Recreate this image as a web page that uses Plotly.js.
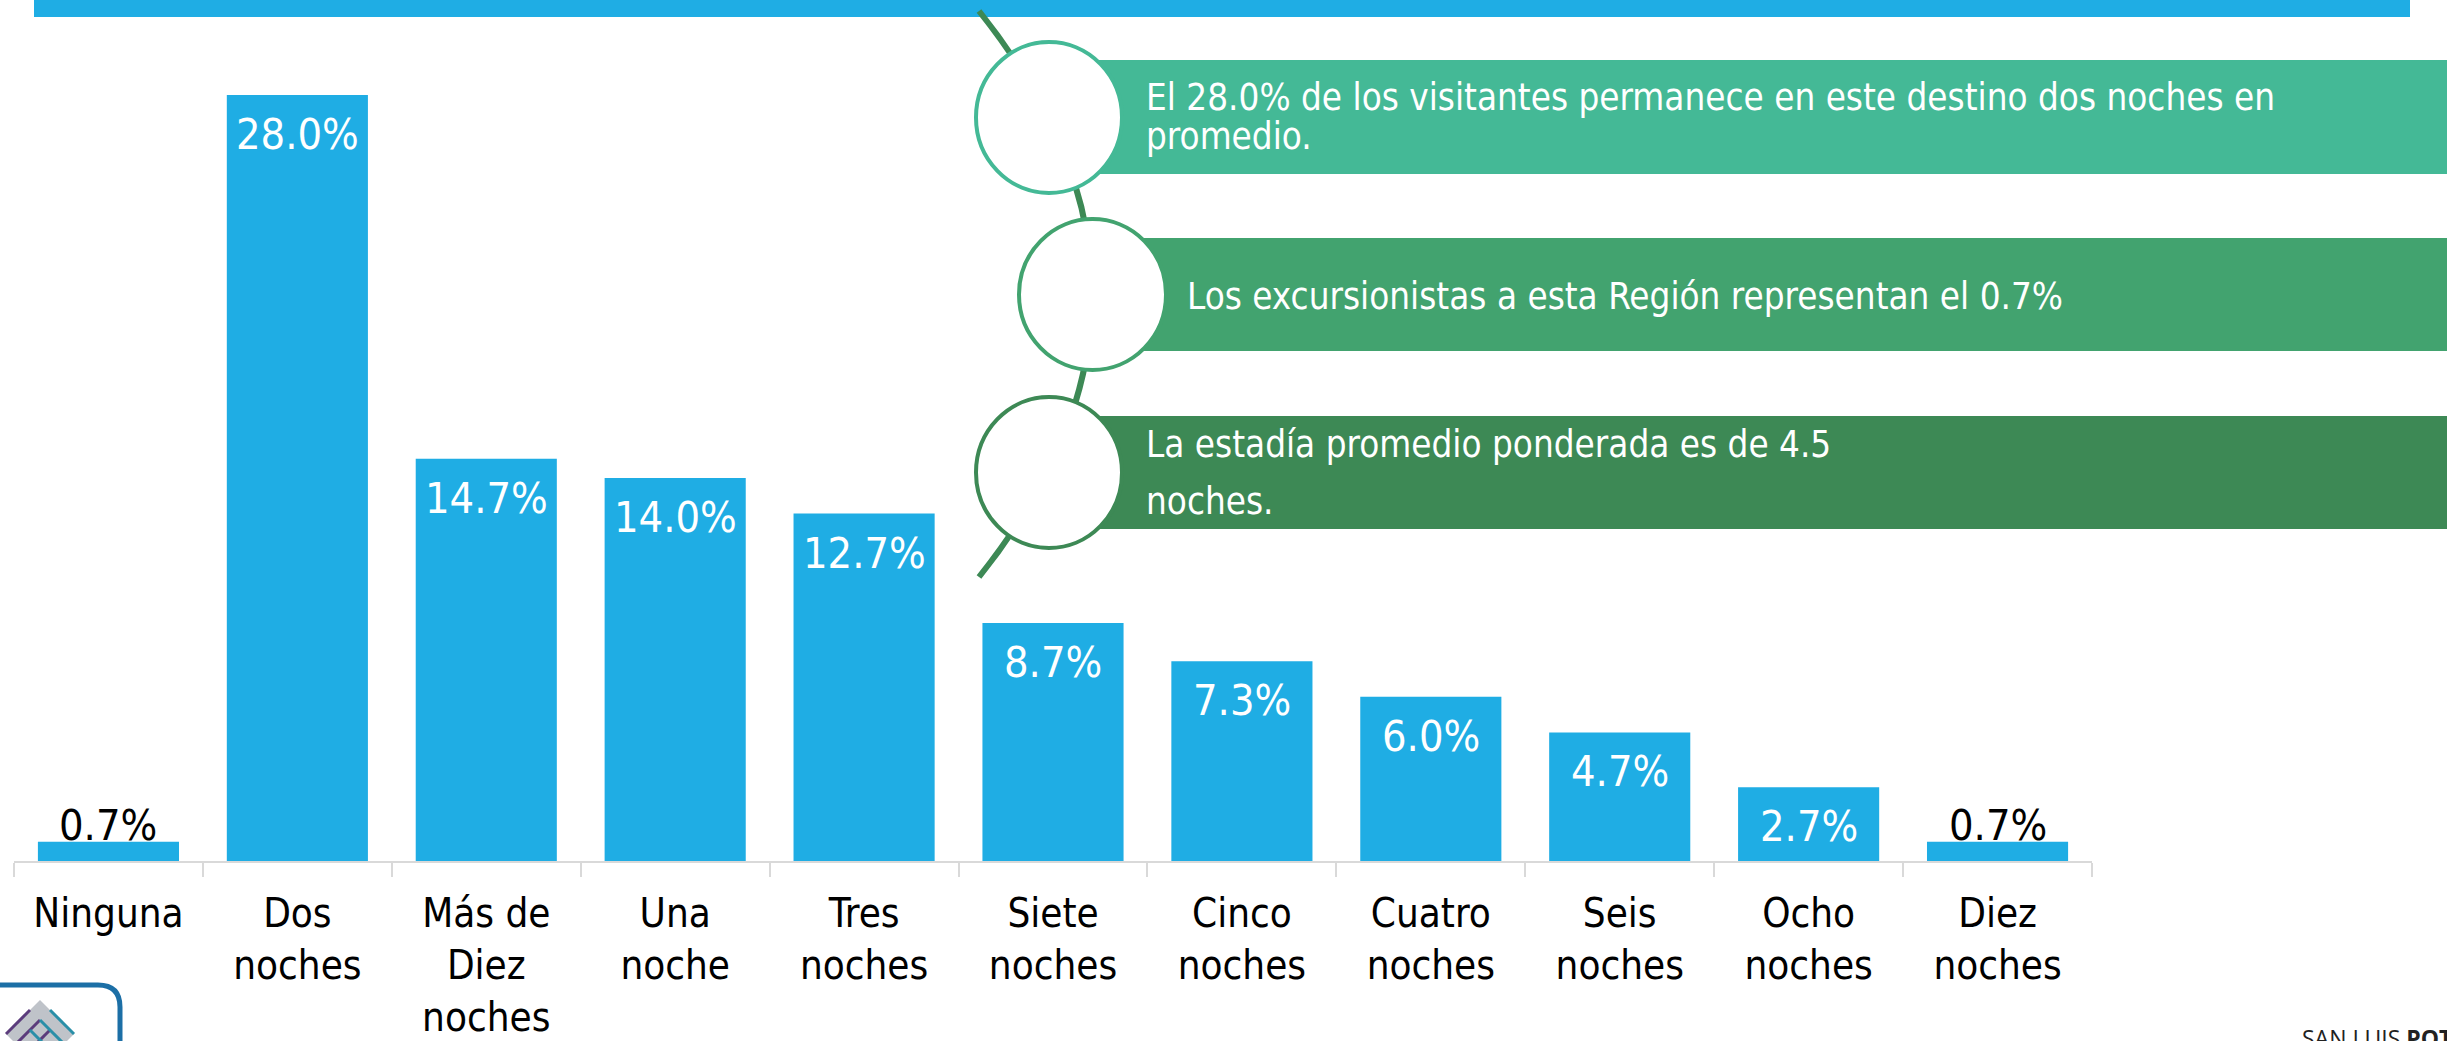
<!DOCTYPE html>
<html>
<head>
<meta charset="utf-8">
<script src="https://cdn.plot.ly/plotly-3.0.1.min.js"></script>
<style>html,body{margin:0;padding:0;background:#fff;}#chart{width:2447px;height:1041px;}</style>
</head>
<body>
<div id="chart"></div>
<script>
// ---- data ----
const categories = ['Ninguna','Dos<br>noches','Más de<br>Diez<br>noches','Una<br>noche','Tres<br>noches','Siete<br>noches','Cinco<br>noches','Cuatro<br>noches','Seis<br>noches','Ocho<br>noches','Diez<br>noches'];
const values = [0.7, 28.0, 14.7, 14.0, 12.7, 8.7, 7.3, 6.0, 4.7, 2.7, 0.7];
const note1 = ['El 28.0% de los visitantes permanece en este destino dos noches en', 'promedio.'];
const note2 = ['Los excursionistas a esta Región representan el 0.7%'];
const note3 = ['La estadía promedio ponderada es de 4.5', 'noches.'];
const brand = ['SAN LUIS ', 'POTOSÍ'];

// ---- geometry helpers (pixel -> paper) ----
const W = 2447, H = 1041;
const L = 14, R = 2092, T = 95, B = 861;
const px = x => (x - L) / (R - L);
const py = y => (B - y) / (B - T);

const FONT = '"DejaVu Sans Condensed", "DejaVu Sans", Tahoma, sans-serif';
const BLUE = '#1FADE4';
const G1 = '#44B996', G2 = '#42A36F', G3 = '#3D8955';

const shapes = [];
function rect(x0, y0, x1, y1, color) {
  shapes.push({type:'rect', xref:'paper', yref:'paper', x0:px(x0), x1:px(x1), y0:py(y1), y1:py(y0),
    fillcolor:color, line:{width:0}, layer:'above'});
}
function ell(x0, y0, x1, y1, color) {
  shapes.push({type:'circle', xref:'paper', yref:'paper', x0:px(x0), x1:px(x1), y0:py(y1), y1:py(y0),
    fillcolor:'#ffffff', line:{color:color, width:4}, layer:'above'});
}
function path(pts, color, width, fill) {
  let d = '';
  pts.forEach(p => {
    d += p[0];
    for (let i = 1; i < p.length; i += 2) d += ' ' + px(p[i]).toFixed(5) + ',' + py(p[i+1]).toFixed(5) + ' ';
  });
  shapes.push({type:'path', xref:'paper', yref:'paper', path:d,
    line:{color:color, width:width}, fillcolor: fill || 'rgba(0,0,0,0)', layer:'above'});
}

// top blue banner
rect(34, 0, 2410, 17, BLUE);
// connecting arc
path([['M', 979, 11], ['Q', 1205, 294, 979, 577]], G3, 6);
// bands
rect(1093, 60, 2447, 174, G1);
rect(1136, 238, 2447, 351, G2);
rect(1093, 416, 2447, 529, G3);
// circles
ell(976, 42, 1122, 193, G1);
ell(1019, 219, 1166, 370, G2);
ell(976, 397, 1122, 548, G3);

// logo bottom-left
path([['M', -10, 985], ['L', 98, 985], ['Q', 120, 985, 120, 1007], ['L', 120, 1060]], '#1C6FA6', 5);
path([['M', 40, 1000], ['L', 74, 1034], ['L', 40, 1068], ['L', 6, 1034], ['Z']], '#BFC3C9', 0, '#BFC3C9');
[[30,1010],[40,1020],[50,1030]].forEach(p => path([['M', p[0], p[1]], ['L', p[0]-24, p[1]+24]], '#5B3C7C', 3));
[[50,1010],[40,1020],[30,1030]].forEach(p => path([['M', p[0], p[1]], ['L', p[0]+24, p[1]+24]], '#2A8FA8', 3));

// annotations
const annotations = [];
function note(text, x, yc, size) {
  annotations.push({xref:'paper', yref:'paper', x:px(x), y:py(yc), xanchor:'left', yanchor:'middle',
    text:text, showarrow:false, font:{family:FONT, size:size, color:'#ffffff'}});
}
note(note1[0], 1144, 97, 36.5);
note(note1[1], 1144, 136, 36.5);
note(note2[0], 1185, 296, 36.5);
note(note3[0], 1144, 444, 36.5);
note(note3[1], 1144, 502, 36.5);
annotations.push({xref:'paper', yref:'paper', x:px(2300), y:py(1020), xanchor:'left', yanchor:'top',
  text: brand[0] + '<b>' + brand[1] + '</b>', showarrow:false,
  font:{family:'"Open Sans", "Noto Sans", sans-serif', size:23, color:'#222222'}});

// bar value labels, placed through the data axes
values.forEach((v, i) => {
  const outside = v < 2;
  annotations.push({xref:'x', yref:'y', x:categories[i], y:v, xanchor:'center', yanchor:'middle',
    yshift: outside ? 17 : -39, showarrow:false, text: v.toFixed(1) + '%',
    font:{family:FONT, size:43, color: outside ? '#000000' : '#ffffff'}});
});

const trace = {
  type:'bar', x:categories, y:values,
  marker:{color:BLUE},
  hoverinfo:'skip'
};

const layout = {
  width:W, height:H,
  margin:{l:L, r:W-R, t:T, b:H-B, pad:0},
  paper_bgcolor:'#ffffff', plot_bgcolor:'#ffffff',
  showlegend:false,
  bargap:0.253,
  xaxis:{type:'category', showline:true, linecolor:'#D9D9D9', linewidth:2,
    ticks:'outside', tickson:'boundaries', ticklen:14, tickcolor:'#D9D9D9', tickwidth:2,
    ticklabelstandoff:16,
    showgrid:false, zeroline:false, fixedrange:true,
    tickfont:{family:FONT, size:40, color:'#000000'}},
  yaxis:{range:[0, 28], visible:false, showgrid:false, zeroline:false, fixedrange:true},
  shapes:shapes,
  annotations:annotations
};

Plotly.newPlot('chart', [trace], layout, {displayModeBar:false, staticPlot:true});
</script>
</body>
</html>
